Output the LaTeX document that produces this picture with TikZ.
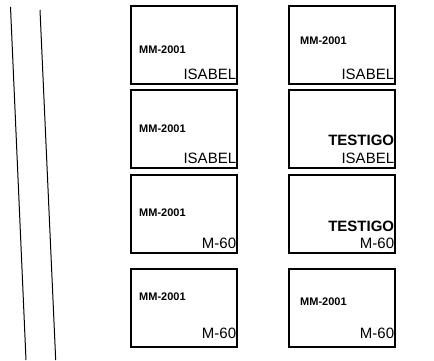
\documentclass[tikz,border=0pt]{standalone}
\usepackage{fontspec}
\setmainfont{Liberation Sans}
\begin{document}
\begin{tikzpicture}[x=1pt,y=-1pt,
  box/.style={draw, line width=1.8pt, inner sep=0pt, minimum width=106pt, minimum height=78pt, anchor=north west},
  code/.style={inner sep=0pt, anchor=west, font=\fontsize{11}{11}\selectfont\bfseries},
  test/.style={inner sep=0pt, anchor=base east, font=\fontsize{15}{15}\selectfont\bfseries},
  lab/.style={inner sep=0pt, anchor=base east, font=\fontsize{15}{15}\selectfont},
  edge/.style={line width=1pt}]
\useasboundingbox (0,0) rectangle (434,360);
% slanted lines
\coordinate (l1a) at (10.5,7);
\coordinate (l1b) at (26,360);
\coordinate (l2a) at (40,10);
\coordinate (l2b) at (55.7,360);
\draw[edge] (l1a) -- (l1b);
\draw[edge] (l2a) -- (l2b);
% boxes
\node[box] (a1) at (130,5) {};
\node[box] (b1) at (288,5) {};
\node[box] (a2) at (130,89) {};
\node[box] (b2) at (288,89) {};
\node[box] (a3) at (130,174) {};
\node[box] (b3) at (288,174) {};
\node[box] (a4) at (130,268) {};
\node[box] (b4) at (288,268) {};
% row 1
\node[code] (a1c) at (139,50) {MM-2001};
\node[lab] (a1l) at ([xshift=-1.5pt,yshift=5pt]a1.south east) {ISABEL};
\node[code] (b1c) at (300,41) {MM-2001};
\node[lab] (b1l) at ([xshift=-1.5pt,yshift=5pt]b1.south east) {ISABEL};
% row 2
\node[code] (a2c) at (139,129) {MM-2001};
\node[lab] (a2l) at ([xshift=-1.5pt,yshift=5pt]a2.south east) {ISABEL};
\node[test] (b2t) at ([xshift=-1.5pt,yshift=23pt]b2.south east) {TESTIGO};
\node[lab] (b2l) at ([xshift=-1.5pt,yshift=5pt]b2.south east) {ISABEL};
% row 3
\node[code] (a3c) at (139,213) {MM-2001};
\node[lab] (a3l) at ([xshift=-1.5pt,yshift=5pt]a3.south east) {M-60};
\node[test] (b3t) at ([xshift=-1.5pt,yshift=22pt]b3.south east) {TESTIGO};
\node[lab] (b3l) at ([xshift=-1.5pt,yshift=5pt]b3.south east) {M-60};
% row 4
\node[code] (a4c) at (139,297) {MM-2001};
\node[lab] (a4l) at ([xshift=-1.5pt,yshift=9pt]a4.south east) {M-60};
\node[code] (b4c) at (300,302) {MM-2001};
\node[lab] (b4l) at ([xshift=-1.5pt,yshift=9pt]b4.south east) {M-60};
\end{tikzpicture}
\end{document}
